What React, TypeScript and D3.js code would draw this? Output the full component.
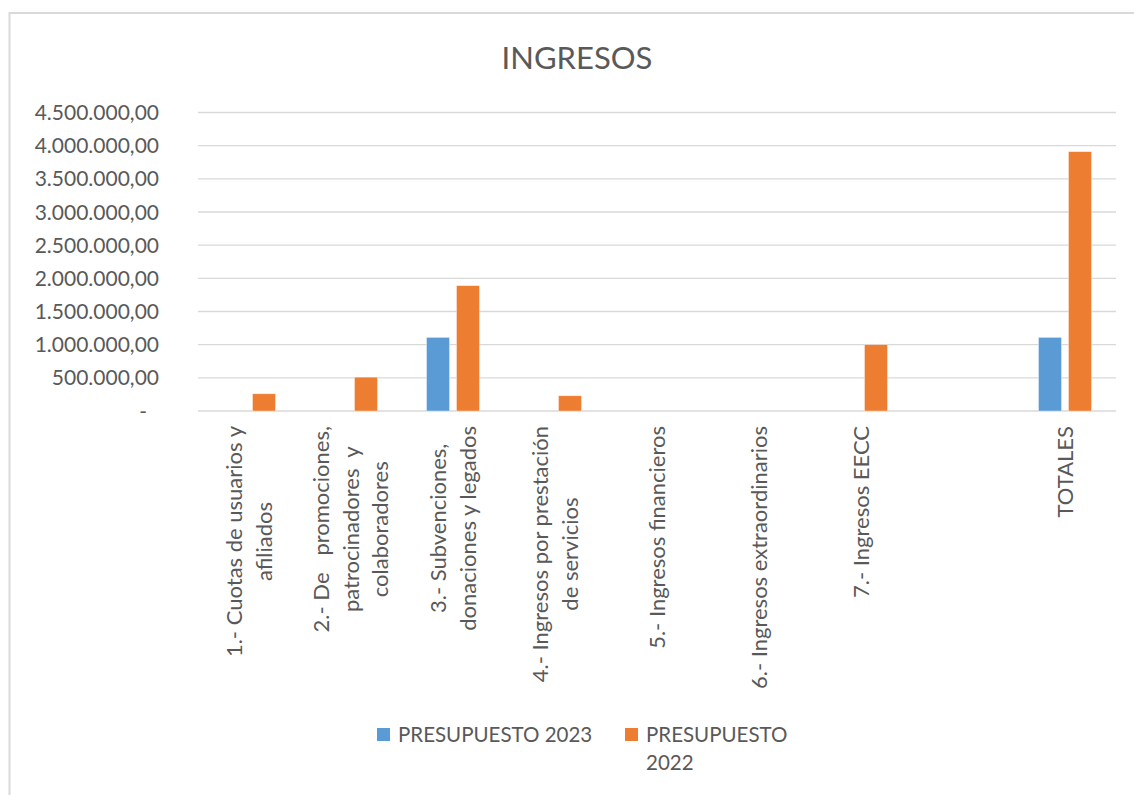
import React, { useEffect, useRef } from 'react'
import * as d3 from 'd3'

const categories = [
  ['1.- Cuotas de usuarios y', 'afiliados'],
  ['2.- De   promociones,', 'patrocinadores  y', 'colaboradores'],
  ['3.- Subvenciones,', 'donaciones y legados'],
  ['4.- Ingresos por prestación', 'de servicios'],
  ['5.- Ingresos financieros'],
  ['6.- Ingresos extraordinarios'],
  ['7.- Ingresos EECC'],
  [''],
  ['TOTALES'],
]
const seriesNames = ['PRESUPUESTO 2023', 'PRESUPUESTO 2022']
const presupuesto2023 = [0, 0, 1110000, 0, 0, 0, 0, 0, 1110000]
const presupuesto2022 = [260000, 510000, 1890000, 230000, 0, 0, 1000000, 0, 3910000]
const yTicks = [0, 500000, 1000000, 1500000, 2000000, 2500000, 3000000, 3500000, 4000000, 4500000]
const colors = ['#5B9BD5', '#ED7D31']

const W = 1134
const H = 795
const FONT = 'Lato, "Open Sans", sans-serif'
const TEXT = '#595959'

export default function App() {
  const ref = useRef(null)

  useEffect(() => {
    const svg = d3.select(ref.current)
    svg.selectAll('*').remove()

    const left = 198, right = 1116, top = 112.5, bottom = 411

    // chart frame
    svg.append('rect')
      .attr('x', 9.5).attr('y', 13).attr('width', W).attr('height', H)
      .attr('fill', 'white').attr('stroke', '#d9d9d9').attr('stroke-width', 2)

    svg.append('text')
      .attr('x', 577).attr('y', 69)
      .attr('text-anchor', 'middle')
      .style('font-family', FONT).style('font-size', '31px').style('fill', TEXT)
      .text('INGRESOS')

    const y = d3.scaleLinear().domain([0, 4500000]).range([bottom, top])
    const x0 = d3.scaleBand().domain(d3.range(categories.length).map(String)).range([left, right])
    const bw = x0.bandwidth()
    const x1 = d3.scaleBand().domain(seriesNames).range([bw / 2 - 26.5, bw / 2 + 26.5]).paddingInner(0.233)

    const es = d3.formatLocale({ decimal: ',', thousands: '.', grouping: [3], currency: ['', ''] })
    const fmt = es.format(',.2f')

    // gridlines
    svg.append('g').selectAll('line')
      .data(yTicks).enter().append('line')
      .attr('x1', left).attr('x2', right)
      .attr('y1', d => y(d)).attr('y2', d => y(d))
      .attr('stroke', '#d9d9d9').attr('stroke-width', 1.3)

    svg.append('g').selectAll('text')
      .data(yTicks).enter().append('text')
      .attr('x', d => d === 0 ? 147 : 159)
      .attr('y', d => y(d))
      .attr('dy', '0.36em')
      .attr('text-anchor', 'end')
      .style('font-family', FONT).style('font-size', '21px').style('fill', TEXT)
      .text(d => d === 0 ? '-' : fmt(d))

    // bars
    const series = [presupuesto2023, presupuesto2022]
    series.forEach((vals, si) => {
      svg.append('g').selectAll('rect')
        .data(vals).enter().append('rect')
        .attr('x', (d, i) => x0(String(i)) + x1(seriesNames[si]))
        .attr('width', x1.bandwidth())
        .attr('y', d => y(d))
        .attr('height', d => bottom - y(d))
        .attr('fill', colors[si])
        .attr('stroke', 'white').attr('stroke-opacity', 0.5).attr('stroke-width', 0.75)
        .style('display', d => d > 0 ? null : 'none')
    })

    // category labels
    const lineH = 29.5
    categories.forEach((lines, i) => {
      const cx = x0(String(i)) + bw / 2
      const g = svg.append('g').attr('transform', `translate(${cx},426) rotate(-90)`)
      const texts = lines.map((l, j) => g.append('text')
        .attr('y', (j - (lines.length - 1) / 2) * lineH)
        .attr('dy', '0.36em')
        .attr('text-anchor', 'middle')
        .style('font-family', FONT).style('font-size', '22px').style('fill', TEXT)
        .style('white-space', 'pre')
        .text(l))
      const maxLen = d3.max(texts, t => t.node().getComputedTextLength()) || 0
      texts.forEach(t => t.attr('x', -maxLen / 2))
    })

    // legend
    const legend = svg.append('g')
    const lx = [377, 625]
    seriesNames.forEach((name, i) => {
      legend.append('rect')
        .attr('x', lx[i]).attr('y', 728).attr('width', 13).attr('height', 13)
        .attr('fill', colors[i])
      const parts = i === 0 ? [name] : name.split(' ')
      parts.forEach((p, j) => {
        legend.append('text')
          .attr('x', lx[i] + 21).attr('y', 742 + j * 28)
          .style('font-family', FONT).style('font-size', '20.5px').style('fill', TEXT)
          .text(p)
      })
    })
  }, [])

  return (
    <div style={{ position: 'absolute', left: 0, top: 0 }}>
      <svg ref={ref} width={W} height={H} style={{ display: 'block' }} />
    </div>
  )
}
